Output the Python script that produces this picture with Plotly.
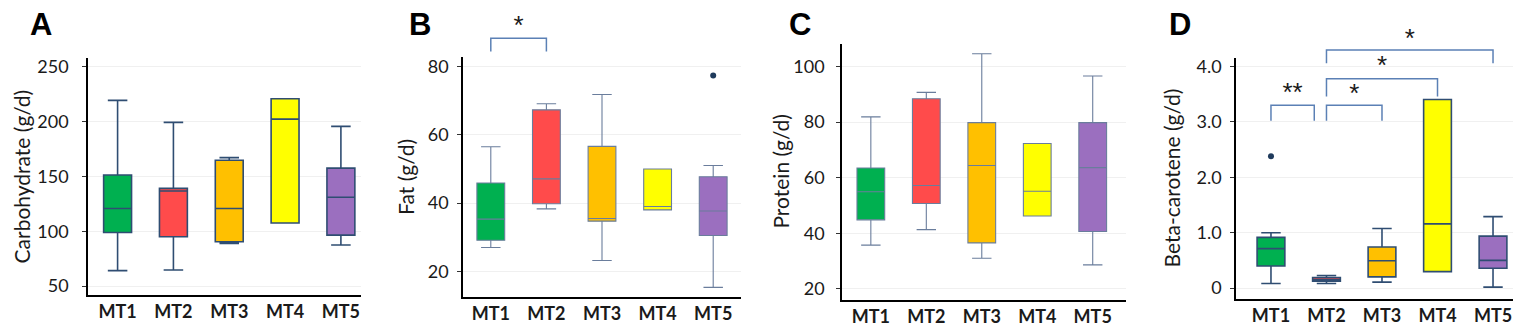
import plotly.graph_objects as go

# ---------------- data ----------------
categories = ["MT1", "MT2", "MT3", "MT4", "MT5"]
colors = ["#00b050", "#ff4b4b", "#ffc000", "#ffff00", "#9b6fbf"]

carb_q1 = [98.9, 95.0, 90.5, 107.6, 96.5]
carb_median = [120.8, 136.7, 120.8, 202.3, 131.0]
carb_q3 = [151.3, 139.1, 164.8, 220.9, 157.6]
carb_low = [64.1, 64.7, 89.0, 107.6, 87.5]
carb_high = [219.4, 199.3, 167.2, 220.9, 195.7]
carb_outliers = {}

fat_q1 = [29.1, 39.8, 34.7, 38.0, 30.5]
fat_median = [35.3, 47.1, 35.5, 39.0, 37.7]
fat_q3 = [45.9, 67.3, 56.6, 50.0, 47.7]
fat_low = [27.0, 38.3, 23.2, 38.0, 15.3]
fat_high = [56.5, 69.1, 71.8, 50.0, 51.0]
fat_outliers = {"MT5": [77.4]}

prot_q1 = [44.8, 50.7, 36.5, 46.2, 40.6]
prot_median = [54.9, 57.2, 64.4, 55.1, 63.6]
prot_q3 = [63.5, 88.4, 79.8, 72.3, 79.8]
prot_low = [35.7, 41.3, 31.0, 46.2, 28.6]
prot_high = [81.9, 90.7, 104.6, 72.3, 96.6]
prot_outliers = {}

beta_q1 = [0.40, 0.125, 0.202, 0.297, 0.357]
beta_median = [0.713, 0.155, 0.493, 1.159, 0.50]
beta_q3 = [0.915, 0.19, 0.743, 3.406, 0.939]
beta_low = [0.083, 0.083, 0.107, 0.297, 0.018]
beta_high = [1.0, 0.226, 1.076, 3.406, 1.29]
beta_outliers = {"MT1": [2.38]}

# significance brackets: (from, to, bracket top, end bottom, star y, label)
fat_sig = [("MT1", "MT2", 88.3, 84.4, 91.4, "*")]
beta_sig = [
    ("MT1", "MT2", 3.30, 3.02, 3.50, "**"),
    ("MT2", "MT3", 3.30, 3.02, 3.48, "*"),
    ("MT2", "MT4", 3.78, 3.46, 3.98, "*"),
    ("MT2", "MT5", 4.30, 4.06, 4.48, "*"),
]

y_titles = ["Carbohydrate (g/d)", "Fat (g/d)", "Protein (g/d)", "Beta-carotene (g/d)"]
panel_letters = ["A", "B", "C", "D"]
y_tickvals = [[50, 100, 150, 200, 250], [20, 40, 60, 80], [20, 40, 60, 80, 100], [0, 1, 2, 3, 4]]
y_ticktext = [["50", "100", "150", "200", "250"], ["20", "40", "60", "80"],
              ["20", "40", "60", "80", "100"], ["0", "1.0", "2.0", "3.0", "4.0"]]

# ---------------- layout geometry (pixels) ----------------
W, H = 1523, 332
# plot area: left, right, top, bottom
areas = [(80, 353, 48, 288), (455, 733, 47, 290), (834, 1118, 33, 293), (1228, 1505, 48, 292)]
y_ranges = [[42.2, 257.8], [12.6, 82.7], [16.1, 108.3], [-0.19, 4.15]]
x_ranges = [[-0.53, 4.36], [-0.5, 4.5], [-0.52, 4.6], [-0.63, 4.36]]
title_x = [13, 398, 773, 1163]
letter_x = [33, 412, 792, 1172]
tick_standoff = [10, 5, 8, 5]
line_colors = ["#2f4d72", "#6a7d9c", "#6a7d9c", "#2f4d72"]
line_widths = [1.6, 1.1, 1.1, 1.6]
bracket_color = "#5b80b5"

panels = [
    (carb_q1, carb_median, carb_q3, carb_low, carb_high, carb_outliers, None),
    (fat_q1, fat_median, fat_q3, fat_low, fat_high, fat_outliers, fat_sig),
    (prot_q1, prot_median, prot_q3, prot_low, prot_high, prot_outliers, None),
    (beta_q1, beta_median, beta_q3, beta_low, beta_high, beta_outliers, beta_sig),
]

idx = {c: i for i, c in enumerate(categories)}
fig = go.Figure()
layout = dict(
    width=W, height=H, margin=dict(l=0, r=0, t=0, b=0),
    paper_bgcolor="white", plot_bgcolor="rgba(0,0,0,0)", showlegend=False,
    boxmode="overlay", font=dict(family="Lato", color="#1a1a1a"),
    annotations=[],
)

extra_axis = 5
for p, (q1, med, q3, lo, hi, outl, sig) in enumerate(panels):
    n = p + 1
    xa = "x" if n == 1 else f"x{n}"
    ya = "y" if n == 1 else f"y{n}"
    l, r, t, b = areas[p]
    xdom = [l / W, r / W]
    ydom = [1 - b / H, 1 - t / H]
    for i, c in enumerate(categories):
        fig.add_trace(go.Box(
            x=[i], q1=[q1[i]], median=[med[i]], q3=[q3[i]],
            lowerfence=[lo[i]], upperfence=[hi[i]],
            fillcolor=colors[i], line=dict(color=line_colors[p], width=line_widths[p]),
            width=0.5, whiskerwidth=0.7, boxpoints=False,
            xaxis=xa, yaxis=ya, hoverinfo="skip",
        ))
        if c in outl:
            fig.add_trace(go.Scatter(
                x=[i] * len(outl[c]), y=outl[c], mode="markers",
                marker=dict(color="#1f3b5c", size=6), xaxis=xa, yaxis=ya,
            ))
    layout["xaxis" if n == 1 else f"xaxis{n}"] = dict(
        domain=xdom, anchor=ya, range=x_ranges[p],
        tickvals=list(range(len(categories))), ticktext=categories,
        showline=True, linecolor="black", linewidth=1.6, showgrid=False,
        zeroline=False, ticks="", ticklabelstandoff=0,
        tickfont=dict(family="Lato", size=18, color="#1a1a1a", weight="bold"),
    )
    layout["yaxis" if n == 1 else f"yaxis{n}"] = dict(
        domain=ydom, anchor=xa, range=y_ranges[p],
        tickvals=y_tickvals[p], ticktext=y_ticktext[p],
        showline=True, linecolor="black", linewidth=1.6,
        showgrid=True, gridcolor="#f0f0f0", gridwidth=1,
        zeroline=False, ticks="outside", ticklen=4, tickwidth=1, tickcolor="#333333",
        ticklabelstandoff=tick_standoff[p],
        tickfont=dict(family="Lato", size=18, color="#1a1a1a"),
    )
    # y title
    layout["annotations"].append(dict(
        text=y_titles[p], xref="paper", yref="paper",
        x=title_x[p] / W, y=1 - (t + b) / 2 / H, textangle=-90,
        showarrow=False, xanchor="center", yanchor="middle",
        font=dict(family="Lato", size=21, color="#1a1a1a"),
    ))
    # panel letter
    layout["annotations"].append(dict(
        text=f"<b>{panel_letters[p]}</b>", xref="paper", yref="paper",
        x=letter_x[p] / W, y=1 - 14 / H, showarrow=False,
        xanchor="center", yanchor="middle",
        font=dict(family="Liberation Sans", size=31, color="black"),
    ))
    # significance brackets on an invisible taller axis with the same scale
    if sig:
        ya2 = f"y{extra_axis}"
        r0, r1 = y_ranges[p]
        h1 = ydom[1] - ydom[0]
        top2 = 1.0
        layout[f"yaxis{extra_axis}"] = dict(
            domain=[ydom[0], top2], anchor=xa,
            range=[r0, r0 + (r1 - r0) * (top2 - ydom[0]) / h1],
            visible=False, fixedrange=True,
        )
        extra_axis += 1
        for k, (a, bb, ytop, yend, ystar, lab) in enumerate(sig):
            xa0, xb0 = idx[a], idx[bb]
            # leave a gap where a bracket ends at a category another bracket starts from at the same level
            if any(s[0] == bb and s[2] == ytop for s in sig):
                xb0 = xb0 - 0.22
            fig.add_trace(go.Scatter(
                x=[xa0, xa0, xb0, xb0], y=[yend, ytop, ytop, yend], mode="lines",
                line=dict(color=bracket_color, width=1.5), xaxis=xa, yaxis=ya2,
                hoverinfo="skip",
            ))
            fig.add_trace(go.Scatter(
                x=[(xa0 + xb0) / 2], y=[ystar], mode="text", text=[lab],
                textfont=dict(family="Liberation Sans", size=26, color="#1a1a1a"),
                xaxis=xa, yaxis=ya2, hoverinfo="skip", cliponaxis=False,
            ))

fig.update_layout(**layout)
fig.write_html("out.html")
